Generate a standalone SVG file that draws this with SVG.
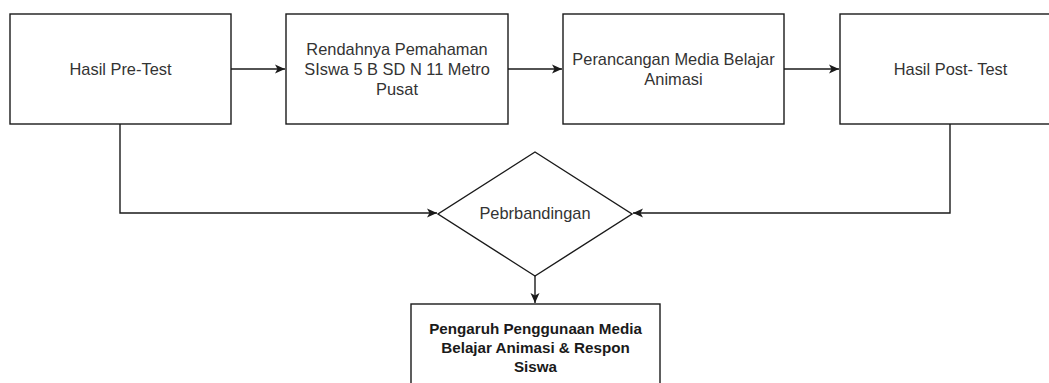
<svg xmlns="http://www.w3.org/2000/svg" width="1049" height="383" viewBox="0 0 1049 383">
<style>
.box{fill:#fff;stroke:#1a1a1a;stroke-width:1.4}
.t{font-family:"Liberation Sans",Arial,sans-serif;font-size:16.4px;fill:#333;text-anchor:middle}
.tb{font-family:"Liberation Sans",Arial,sans-serif;font-size:15.2px;font-weight:bold;fill:#1a1a1a;text-anchor:middle}
.c{fill:none;stroke:#1a1a1a;stroke-width:1.4}
</style>
<defs>
<marker id="ah" markerUnits="userSpaceOnUse" markerWidth="12" markerHeight="12" viewBox="0 0 12 12" refX="11" refY="6" orient="auto">
<path d="M1,1.5 L11,6 L1,10.5 L3.5,6 Z" fill="#1a1a1a"/>
</marker>
</defs>
<rect width="1049" height="383" fill="#fff"/>
<g id="connectors">
<path class="c" d="M231,69 H285" marker-end="url(#ah)"/>
<path class="c" d="M508,69 H562" marker-end="url(#ah)"/>
<path class="c" d="M784,69 H839" marker-end="url(#ah)"/>
<path class="c" d="M120,124 V213 H437" marker-end="url(#ah)"/>
<path class="c" d="M950,124 V213 H633" marker-end="url(#ah)"/>
<path class="c" d="M535,276 V303" marker-end="url(#ah)"/>
</g>
<g id="n1">
<rect class="box" x="10" y="14" width="221" height="110"/>
<text class="t" x="120.5" y="74.5">Hasil Pre-Test</text>
</g>
<g id="n2">
<rect class="box" x="286" y="14" width="222" height="110"/>
<text class="t" x="397" y="54.5">Rendahnya Pemahaman</text>
<text class="t" x="397" y="74.5">SIswa 5 B SD N 11 Metro</text>
<text class="t" x="397" y="94.5">Pusat</text>
</g>
<g id="n3">
<rect class="box" x="563" y="14" width="221" height="110"/>
<text class="t" x="673.5" y="64.5">Perancangan Media Belajar</text>
<text class="t" x="673.5" y="84.5">Animasi</text>
</g>
<g id="n4">
<rect class="box" x="840" y="14" width="221" height="110"/>
<text class="t" x="950.5" y="74.5">Hasil Post- Test</text>
</g>
<g id="n5">
<path class="box" d="M535,152 L632,214 L535,276 L438,214 Z"/>
<text class="t" x="535" y="219">Pebrbandingan</text>
</g>
<g id="n6">
<rect class="box" x="411" y="304" width="249" height="100"/>
<text class="tb" x="535.5" y="334">Pengaruh Penggunaan Media</text>
<text class="tb" x="535.5" y="353">Belajar Animasi &amp; Respon</text>
<text class="tb" x="535.5" y="372">Siswa</text>
</g>
</svg>
